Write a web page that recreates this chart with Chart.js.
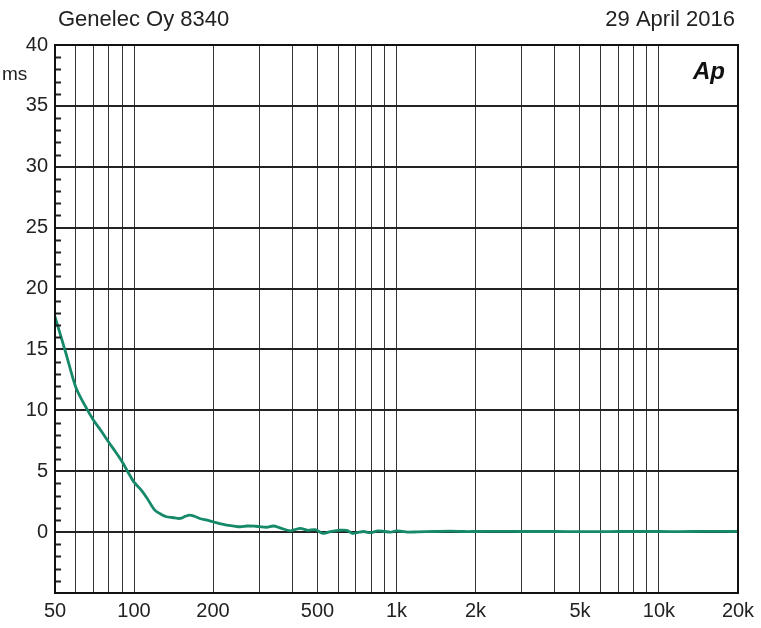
<!DOCTYPE html>
<html>
<head>
<meta charset="utf-8">
<script src="https://cdn.jsdelivr.net/npm/chart.js@4.4.0/dist/chart.umd.min.js"></script>
<style>
    html, body { margin: 0; padding: 0; background: #fff; }
    #wrap { width: 761px; height: 628px; }
</style>
</head>
<body>
<div id="wrap"><canvas id="delayChart" width="761" height="628"></canvas></div>
<script>
const freqs = [50, 55, 60, 65, 70, 75, 80, 85, 90, 95, 100, 106, 112, 120, 127, 133, 140, 150, 157,
    163, 170, 178, 190, 200, 212, 225, 240, 254, 270, 290, 300, 320, 340, 360, 393, 410, 430, 460, 490,
    525, 560, 600, 646, 680, 708, 750, 792, 850, 900, 950, 1000, 1050, 1100, 1200, 1400, 1600, 1800, 2000,
    2500, 3000, 4000, 5000, 6000, 7000, 8000, 10000, 12000, 15000, 20000];
const delays = [17.7, 14.7, 11.9, 10.4, 9.2, 8.3, 7.4, 6.6, 5.8, 4.9, 4.1, 3.5, 2.8, 1.8, 1.45, 1.26, 1.2, 1.12, 1.3,
    1.4, 1.3, 1.12, 0.98, 0.85, 0.7, 0.58, 0.5, 0.44, 0.5, 0.48, 0.45, 0.4, 0.5, 0.35, 0.1, 0.2, 0.3, 0.15, 0.2,
    -0.1, 0.05, 0.15, 0.15, -0.1, -0.05, 0.05, -0.05, 0.1, 0.05, 0.0, 0.1, 0.05, 0.0, 0.02, 0.05, 0.08, 0.05, 0.05,
    0.06, 0.05, 0.05, 0.04, 0.04, 0.05, 0.05, 0.05, 0.04, 0.06, 0.05];

const xGridTicks = [50, 60, 70, 80, 90, 100, 200, 300, 400, 500, 600, 700, 800, 900, 1000,
    2000, 3000, 4000, 5000, 6000, 7000, 8000, 9000, 10000, 20000];
const xLabels = { 50: '50', 100: '100', 200: '200', 500: '500', 1000: '1k', 2000: '2k', 5000: '5k', 10000: '10k', 20000: '20k' };
const yMajor = [-5, 0, 5, 10, 15, 20, 25, 30, 35, 40];

const headerTitle = 'Genelec Oy 8340';
const headerDate = '29 April 2016';
const yUnit = 'ms';

const FONT = '"Liberation Sans", Arial, sans-serif';

const extrasPlugin = {
    id: 'extras',
    afterDraw(chart) {
        const { ctx, chartArea, scales } = chart;
        const y = scales.y;
        ctx.save();
        // minor ticks inside the left edge
        ctx.strokeStyle = '#222';
        ctx.lineWidth = 2;
        for (let v = -5; v <= 40; v++) {
            if (v % 5 === 0) continue;
            const py = Math.round(y.getPixelForValue(v)) + 0.5;
            ctx.beginPath();
            ctx.moveTo(chartArea.left, py);
            ctx.lineTo(chartArea.left + 6, py);
            ctx.stroke();
        }
        // header
        ctx.fillStyle = '#222';
        ctx.font = '22px ' + FONT;
        ctx.textBaseline = 'middle';
        ctx.textAlign = 'left';
        ctx.fillText(headerTitle, 58, 20);
        ctx.textAlign = 'right';
        ctx.fillText(headerDate, 735, 20);
        // unit
        ctx.textAlign = 'left';
        ctx.font = '19px ' + FONT;
        ctx.fillText(yUnit, 2, 75);
        // logo
        ctx.font = 'italic bold 24px ' + FONT;
        ctx.textAlign = 'center';
        ctx.fillStyle = '#111';
        ctx.fillText('Ap', 709, 72);
        // frame
        ctx.strokeStyle = '#111';
        ctx.lineWidth = 2;
        ctx.strokeRect(chartArea.left, chartArea.top, chartArea.right - chartArea.left, chartArea.bottom - chartArea.top);
        ctx.restore();
    }
};

new Chart(document.getElementById('delayChart').getContext('2d'), {
    type: 'line',
    data: {
        datasets: [{
            data: freqs.map((f, i) => ({ x: f, y: delays[i] })),
            borderColor: '#15896a',
            borderWidth: 2.8,
            pointRadius: 0,
            tension: 0.3,
            fill: false
        }]
    },
    options: {
        responsive: false,
        animation: false,
        layout: { padding: { top: 45, right: 23, left: 0, bottom: 0 } },
        plugins: {
            legend: { display: false },
            tooltip: { enabled: false }
        },
        scales: {
            x: {
                type: 'logarithmic',
                min: 50,
                max: 20000,
                afterBuildTicks(scale) {
                    scale.ticks = xGridTicks.map(v => ({ value: v }));
                },
                afterFit(scale) { scale.height = 35; },
                grid: { color: '#333', lineWidth: 1, drawTicks: false },
                border: { display: false },
                ticks: {
                    autoSkip: false,
                    maxRotation: 0,
                    padding: 6,
                    color: '#222',
                    font: { size: 20, family: FONT },
                    callback: (v) => xLabels[v] || ''
                }
            },
            y: {
                min: -5,
                max: 40,
                afterBuildTicks(scale) {
                    scale.ticks = yMajor.map(v => ({ value: v }));
                },
                afterFit(scale) { scale.width = 55; },
                grid: { color: '#222', lineWidth: 2, drawTicks: false },
                border: { display: false },
                ticks: {
                    padding: 7,
                    color: '#222',
                    font: { size: 20, family: FONT },
                    callback: (v) => v < 0 ? '' : String(v)
                }
            }
        }
    },
    plugins: [extrasPlugin]
});
</script>
</body>
</html>
